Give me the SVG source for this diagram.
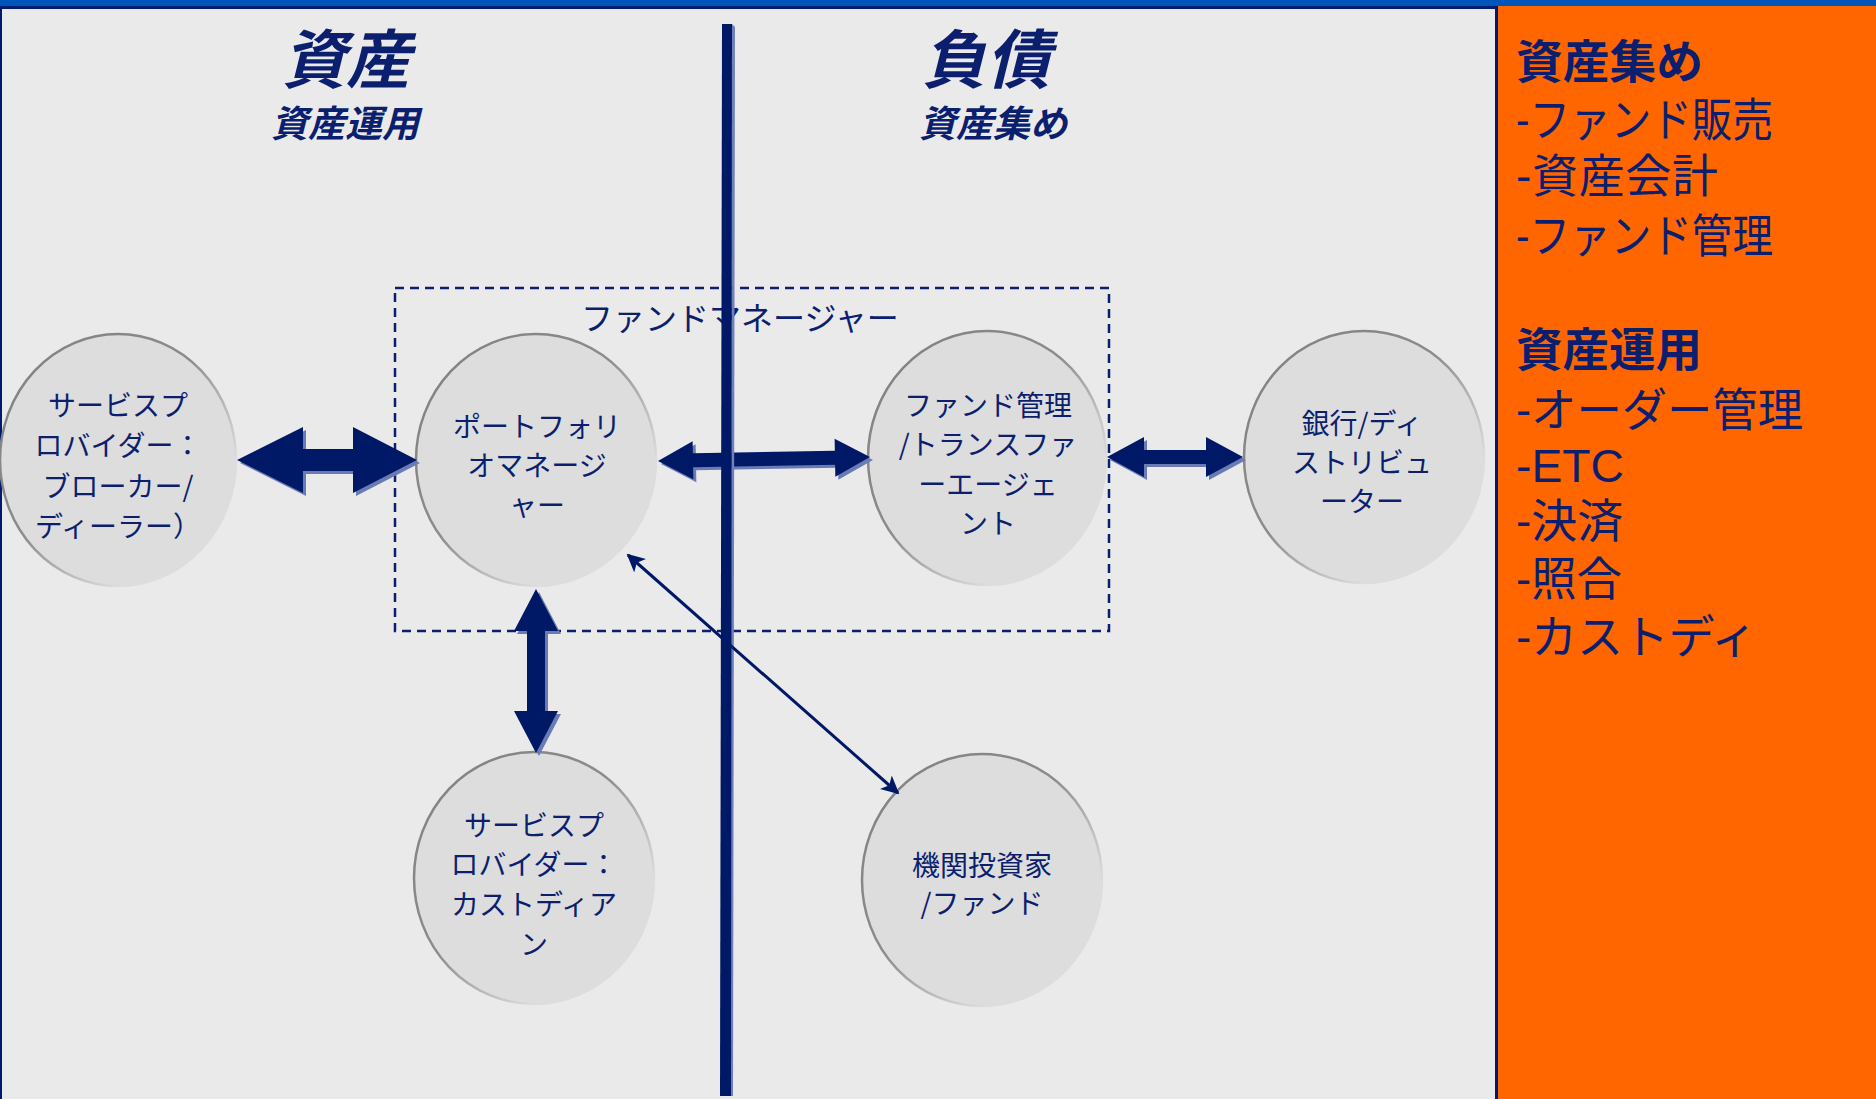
<svg xmlns="http://www.w3.org/2000/svg" width="1876" height="1099" viewBox="0 0 1876 1099">
<style>
.bg{fill:#eaeaea}
.node{fill:#dddddd;stroke:url(#rim);stroke-width:2.5}
.nt{font-family:"Noto Sans CJK JP","Liberation Sans",sans-serif;font-size:28px;fill:#0b1f6e;text-anchor:middle}
.title{font-family:"Noto Sans CJK JP",sans-serif;font-weight:bold;font-style:italic;fill:#0b1f6e;text-anchor:middle}
.side{font-family:"Liberation Sans","Noto Sans CJK JP",sans-serif;font-size:46px;fill:#0b1f6e}
.sideh{font-family:"Noto Sans CJK JP",sans-serif;font-size:46px;font-weight:bold;fill:#0b1f6e}
.arr{fill:#001966}
.sh{fill:#6a7ab4}
.dash{fill:none;stroke:#0b1f6e;stroke-width:2.5;stroke-dasharray:9 6}
.thin{fill:none;stroke:#001966;stroke-width:3}
</style>
<defs>
<linearGradient id="rim" x1="0" y1="0" x2="1" y2="1">
<stop offset="0" stop-color="#808080"/>
<stop offset="0.45" stop-color="#8c8c8c"/>
<stop offset="0.75" stop-color="#dddddd"/>
</linearGradient>
<marker id="ah" viewBox="0 0 10 10" refX="9" refY="5" markerWidth="6" markerHeight="6" orient="auto-start-reverse" markerUnits="strokeWidth">
<path d="M0,0 L10,5 L0,10 L2.5,5 z" fill="#001966"/>
</marker>
</defs>

<rect class="bg" x="0" y="0" width="1876" height="1099"/>
<rect x="0" y="0" width="1876" height="6" fill="#0055bb"/>
<rect x="0" y="6" width="1498" height="3" fill="#001a6e"/>
<rect x="0" y="6" width="2" height="1093" fill="#001a6e"/>
<rect x="1498" y="6" width="378" height="1093" fill="#ff6600"/>
<rect x="1495" y="6" width="3" height="1093" fill="#001a6e"/>

<g id="titles">
<text class="title" x="346" y="83" font-size="64">資産</text>
<text class="title" x="345" y="137" font-size="37">資産運用</text>
<text class="title" x="986" y="83" font-size="64">負債</text>
<text class="title" x="993" y="137" font-size="37">資産集め</text>
</g>

<g id="side-panel">
<text class="sideh" x="1516" y="78" textLength="187" lengthAdjust="spacingAndGlyphs">資産集め</text>
<text class="side" x="1516" y="136" textLength="257" lengthAdjust="spacingAndGlyphs">-ファンド販売</text>
<text class="side" x="1516" y="192" textLength="202" lengthAdjust="spacing">-資産会計</text>
<text class="side" x="1516" y="252" textLength="257" lengthAdjust="spacingAndGlyphs">-ファンド管理</text>
<text class="sideh" x="1516" y="366" textLength="186" lengthAdjust="spacingAndGlyphs">資産運用</text>
<text class="side" x="1516" y="426" textLength="287" lengthAdjust="spacingAndGlyphs">-オーダー管理</text>
<text class="side" x="1516" y="482" textLength="108" lengthAdjust="spacingAndGlyphs">-ETC</text>
<text class="side" x="1516" y="537" textLength="107" lengthAdjust="spacingAndGlyphs">-決済</text>
<text class="side" x="1516" y="595" textLength="106" lengthAdjust="spacingAndGlyphs">-照合</text>
<text class="side" x="1516" y="653" textLength="241" lengthAdjust="spacing">-カストディ</text>
</g>

<g id="fund-manager-group">
<rect class="dash" x="395" y="288" width="714" height="343"/>
<text class="nt" x="740" y="330" style="font-size:32px">ファンドマネージャー</text>
</g>

<g id="node-broker">
<ellipse class="node" cx="118" cy="460" rx="118" ry="126"/>
<text class="nt" x="118" y="416">サービスプ</text>
<text class="nt" x="118" y="456">ロバイダー：</text>
<text class="nt" x="118" y="497">ブローカー/</text>
<text class="nt" x="118" y="537">ディーラー）</text>
</g>

<g id="node-portfolio-manager">
<ellipse class="node" cx="536" cy="460" rx="120" ry="126"/>
<text class="nt" x="537" y="437">ポートフォリ</text>
<text class="nt" x="537" y="476">オマネージ</text>
<text class="nt" x="537" y="516">ャー</text>
</g>

<g id="node-fund-admin">
<ellipse class="node" cx="987" cy="458" rx="119" ry="127"/>
<text class="nt" x="988" y="416">ファンド管理</text>
<text class="nt" x="988" y="455">/トランスファ</text>
<text class="nt" x="988" y="495">ーエージェ</text>
<text class="nt" x="988" y="534">ント</text>
</g>

<g id="node-bank">
<ellipse class="node" cx="1364" cy="457" rx="120" ry="126"/>
<text class="nt" x="1362" y="434">銀行/ディ</text>
<text class="nt" x="1362" y="473">ストリビュ</text>
<text class="nt" x="1362" y="512">ーター</text>
</g>

<g id="node-custodian">
<ellipse class="node" cx="534" cy="878" rx="120" ry="126"/>
<text class="nt" x="534" y="836">サービスプ</text>
<text class="nt" x="534" y="875">ロバイダー：</text>
<text class="nt" x="534" y="915">カストディア</text>
<text class="nt" x="534" y="955">ン</text>
</g>

<g id="node-investor">
<ellipse class="node" cx="982" cy="880" rx="120" ry="126"/>
<text class="nt" x="982" y="876">機関投資家</text>
<text class="nt" x="982" y="914">/ファンド</text>
</g>

<g id="connectors">
<g transform="translate(3,3)">
<polygon class="sh" points="237,460 303,427 303,449 353,449 353,427 417,460 353,493 353,471 303,471 303,493"/>
<polygon class="sh" transform="translate(658,461) rotate(-1.08)" points="0,0 35,-19 35,-7 177,-7 177,-19 212,0 177,19 177,7 35,7 35,19"/>
<polygon class="sh" points="1107,457 1144,437 1144,450 1206,450 1206,437 1243,457 1206,477 1206,464 1144,464 1144,477"/>
<polygon class="sh" points="536,589 558,631 545,631 545,711 558,711 536,753 514,711 527,711 527,631 514,631"/>
</g>
<polygon class="arr" points="237,460 303,427 303,449 353,449 353,427 417,460 353,493 353,471 303,471 303,493"/>
<polygon class="arr" transform="translate(658,461) rotate(-1.08)" points="0,0 35,-19 35,-7 177,-7 177,-19 212,0 177,19 177,7 35,7 35,19"/>
<polygon class="arr" points="1107,457 1144,437 1144,450 1206,450 1206,437 1243,457 1206,477 1206,464 1144,464 1144,477"/>
<polygon class="arr" points="536,589 558,631 545,631 545,711 558,711 536,753 514,711 527,711 527,631 514,631"/>
</g>

<g id="divider">
<polygon points="732,24 735,27 733,1096 730,1096" fill="#7080b8"/>
<polygon points="722,24 732,24 731,1096 720,1096" fill="#001966"/>
</g>

<g id="connector-thin">
<line class="thin" x1="628" y1="555" x2="898" y2="793" marker-start="url(#ah)" marker-end="url(#ah)"/>
</g>
</svg>
